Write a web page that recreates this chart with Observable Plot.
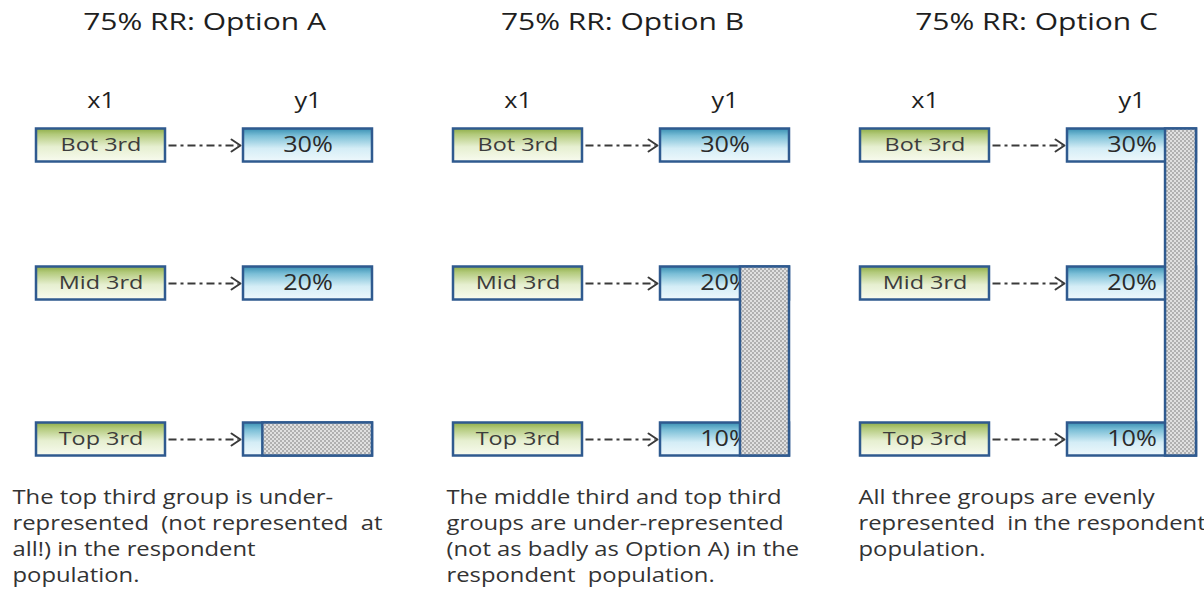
<!DOCTYPE html>
<html><head><meta charset="utf-8">
<script src="https://cdn.jsdelivr.net/npm/d3@7"></script>
<script src="https://cdn.jsdelivr.net/npm/@observablehq/plot@0.6"></script>
<style>html,body{margin:0;padding:0;background:#fff;overflow:hidden}</style>
</head><body><div id="chart"></div>
<script>
// ---------- data ----------
const options = ["A", "B", "C"];
const titles = ["75% RR: Option A", "75% RR: Option B", "75% RR: Option C"];
const columnHeaders = ["x1", "y1"];
const groups = ["Bot 3rd", "Mid 3rd", "Top 3rd"];
const responseLabels = ["30%", "20%", "10%"];
// share of each y1 box that is non-response (hatched)
const nonResponseA = [0, 0, 0.85];
const nonResponseB = [0, 0.38, 0.38];
const nonResponseC = [0.24, 0.24, 0.24];
const descriptionA = ["The top third group is under-", "represented  (not represented  at", "all!) in the respondent", "population."];
const descriptionB = ["The middle third and top third", "groups are under-represented", "(not as badly as Option A) in the", "respondent  population."];
const descriptionC = ["All three groups are evenly", "represented  in the respondent", "population."];

// ---------- layout ----------
const W = 1204, H = 590;
const panelX = [36, 453, 860];     // left edge of x1 boxes
const titleX = [204, 622, 1036];
const descX = [12, 446, 858];
const boxW = 129, gapX = 207, boxH = 33;
const rowY = [145, 283, 439];
const titleY = 22, headerY = 101, descY = 497, lineH = 26;
const border = "#2f5a8f";
const ink = "#3a3a3a";

const nonResp = [nonResponseA, nonResponseB, nonResponseC];
const descs = [descriptionA, descriptionB, descriptionC];

const cells = options.flatMap((o, p) => groups.map((g, r) => ({
  p, r, group: g, label: responseLabels[r], nr: nonResp[p][r],
  xl: panelX[p], yl: panelX[p] + gapX, y: rowY[r]
})));
// open ">" arrow heads as 3-point polylines, one per cell
const heads = cells.flatMap((d, i) => [
  {i, x: d.yl - 12, y: d.y - 6},
  {i, x: d.yl - 3, y: d.y},
  {i, x: d.yl - 12, y: d.y + 6}
]);
const hatches = options.map((o, p) => {
  const rows = nonResp[p].map((v, r) => ({v, r})).filter(d => d.v > 0);
  const share = d3.max(rows, d => d.v);
  const rmin = d3.min(rows, d => d.r), rmax = d3.max(rows, d => d.r);
  const left = panelX[p] + gapX;
  return {x1: left + boxW * (1 - share), x2: left + boxW, y1: rowY[rmin] - boxH / 2, y2: rowY[rmax] + boxH / 2};
});
const titleData = titles.map((t, p) => ({t, x: titleX[p], y: titleY}));
const headerData = options.flatMap((o, p) => columnHeaders.map((h, c) => ({h, x: panelX[p] + c * gapX + boxW / 2, y: headerY})));
const descData = descs.flatMap((lines, p) => lines.map((t, k) => ({t, x: descX[p], y: descY + k * lineH})));

const chart = Plot.plot({
  width: W, height: H, margin: 0,
  x: {domain: [0, W], range: [0, W], axis: null},
  y: {domain: [0, H], range: [0, H], axis: null},
  style: {fontFamily: "'Open Sans', sans-serif", background: "#fff"},
  marks: [
    Plot.text(titleData, {x: "x", y: "y", text: "t", fontSize: 24, fill: "#1e1e1e", className: "st125"}),
    Plot.text(headerData, {x: "x", y: "y", text: "h", fontSize: 21, fill: "#1e1e1e", className: "st120"}),
    Plot.link(cells, {x1: d => d.xl + boxW + 3, x2: d => d.yl - 5, y1: "y", y2: "y", stroke: ink, strokeWidth: 2, strokeDasharray: "8,4,3,4"}),
    Plot.line(heads, {x: "x", y: "y", z: "i", stroke: ink, strokeWidth: 2, curve: "linear"}),
    Plot.rect(cells, {x1: "xl", x2: d => d.xl + boxW, y1: d => d.y - boxH / 2, y2: d => d.y + boxH / 2, fill: "url(#gx)", stroke: border, strokeWidth: 2.5}),
    Plot.rect(cells, {x1: "yl", x2: d => d.yl + boxW, y1: d => d.y - boxH / 2, y2: d => d.y + boxH / 2, fill: "url(#gy)", stroke: border, strokeWidth: 2.5}),
    Plot.text(cells, {x: d => d.xl + boxW / 2, y: "y", text: "group", fontSize: 18, fill: "#3c3c3c", className: "st130"}),
    Plot.text(cells, {x: d => d.yl + boxW / 2, y: "y", text: "label", fontSize: 21, fill: "#2a2a2a", className: "st120"}),
    Plot.rect(hatches, {x1: "x1", x2: "x2", y1: "y1", y2: "y2", fill: "url(#hatch)", stroke: border, strokeWidth: 2.5}),
    Plot.text(descData, {x: "x", y: "y", text: "t", textAnchor: "start", fontSize: 20, fill: "#333", className: "st119"})
  ]
});

const defs = d3.create("svg:defs");
const gx = defs.append("linearGradient").attr("id", "gx").attr("x1", 0).attr("y1", 0).attr("x2", 0).attr("y2", 1);
[[0, "#8fae48"], [0.18, "#b3ca7c"], [0.55, "#e6efd0"], [1, "#f8fbef"]].forEach(([o, c]) => gx.append("stop").attr("offset", o).attr("stop-color", c));
const gy = defs.append("linearGradient").attr("id", "gy").attr("x1", 0).attr("y1", 0).attr("x2", 0).attr("y2", 1);
[[0, "#3a90b3"], [0.22, "#7bbfd7"], [0.6, "#d4edf6"], [1, "#eef8fc"]].forEach(([o, c]) => gy.append("stop").attr("offset", o).attr("stop-color", c));
const pat = defs.append("pattern").attr("id", "hatch").attr("width", 4).attr("height", 4).attr("patternUnits", "userSpaceOnUse");
pat.append("rect").attr("width", 4).attr("height", 4).attr("fill", "#e0e0e0");
pat.append("rect").attr("width", 2).attr("height", 2).attr("fill", "#b0b0b0");
pat.append("rect").attr("x", 2).attr("y", 2).attr("width", 2).attr("height", 2).attr("fill", "#b0b0b0");
chart.insertBefore(defs.node(), chart.firstChild);

document.getElementById("chart").append(chart);
// the reference's lettering is horizontally stretched; widen each text run by a fixed factor per class
[["st125", 1.25], ["st120", 1.2], ["st130", 1.3], ["st119", 1.19]].forEach(([cls, k]) => {
  chart.querySelectorAll(`g.${cls} text`).forEach(t => {
    const len = t.getComputedTextLength();
    if (len > 0) { t.setAttribute("textLength", len * k); t.setAttribute("lengthAdjust", "spacingAndGlyphs"); }
  });
});
</script></body></html>
